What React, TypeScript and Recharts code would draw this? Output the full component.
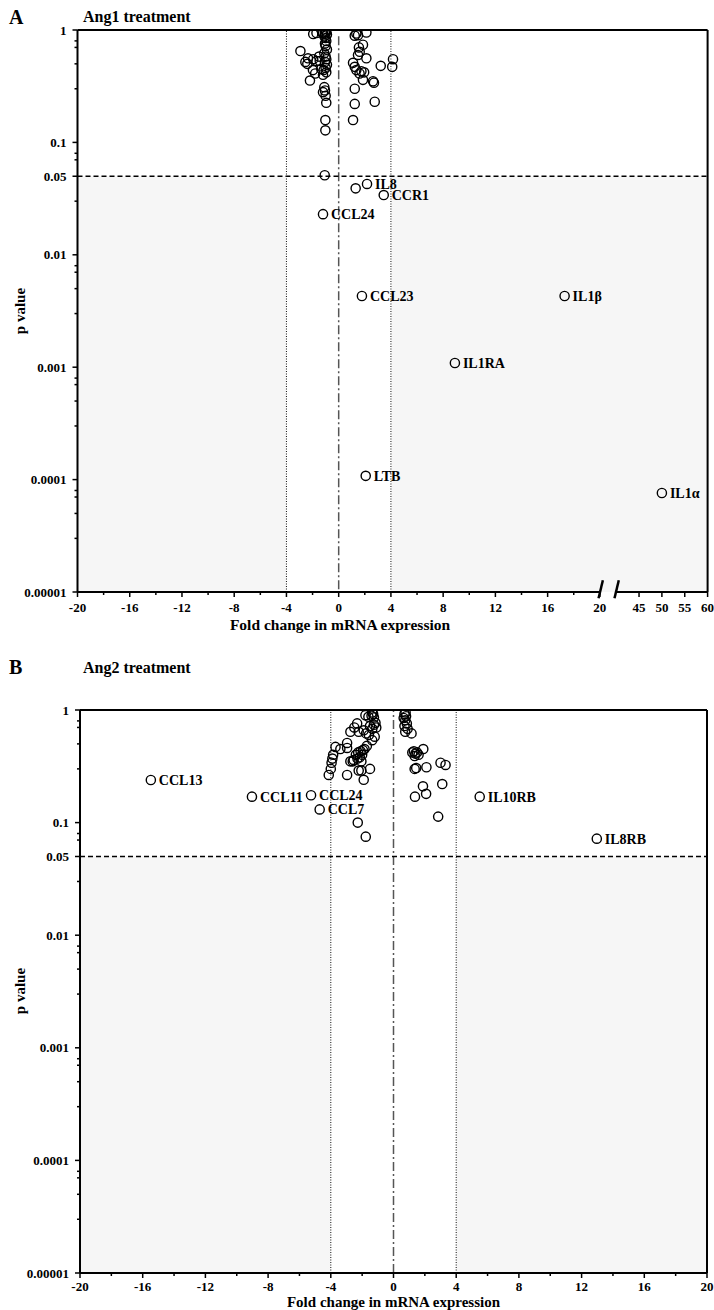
import React from 'react';
import { ScatterChart, Scatter, XAxis, YAxis, ReferenceLine, ReferenceArea } from 'recharts';

const FONT = '"Liberation Serif", "Times New Roman", serif';

// ---------- Panel A : Ang1 treatment ----------
const ang1Fold = [
  -1.0, -0.95, -1.05, -0.9, -1.1, -1.0, -0.95, -1.05, -1.0, -0.9,
  -1.1, -1.0, -0.95, -1.05, -0.9, -1.0, -1.15, -0.95, -1.2, -1.1,
  -1.05, -1.2, -1.0, -0.95, -1.02, -1.02,
  -1.95, -1.7, -2.93, -2.35, -2.4, -1.95, -1.7, -1.45, -2.2, -1.97,
  -1.33, -1.5, -1.2, -1.25, -2.55, -1.8,
  1.35, 1.48, 2.12, 1.23, 1.86, 1.61, 1.48, 2.12, 1.1, 1.23,
  1.35, 1.74, 1.86, 3.22, 4.16, 4.1, 2.63, 2.7, 1.23, 2.76,
  1.23, 1.1, 1.6, 1.95, 1.55,
  -1.07, 1.3,
];
const ang1P = [
  0.99, 0.96, 0.93, 0.91, 0.88, 0.85, 0.8, 0.76, 0.72, 0.67,
  0.62, 0.58, 0.55, 0.52, 0.49, 0.46, 0.44, 0.42, 0.4, 0.31,
  0.29, 0.28, 0.26, 0.225, 0.158, 0.128,
  0.92, 0.94, 0.65, 0.56, 0.5, 0.55, 0.53, 0.53, 0.355, 0.44,
  0.45, 0.58, 0.93, 0.95, 0.52, 0.41,
  0.93, 0.9, 0.95, 0.89, 0.74, 0.64, 0.6, 0.56, 0.51, 0.47,
  0.44, 0.43, 0.36, 0.48, 0.55, 0.47, 0.35, 0.34, 0.3, 0.23,
  0.22, 0.158, 0.41, 0.42, 0.7,
  0.051, 0.039,
];
const ang1Genes = ['IL8', 'CCR1', 'CCL24', 'CCL23', 'IL1β', 'IL1RA', 'LTB', 'IL1α'];
const ang1GeneFold = [2.17, 3.45, -1.2, 1.78, 17.3, 8.9, 2.07, 50];
const ang1GeneP = [0.0427, 0.034, 0.023, 0.0043, 0.0043, 0.00109, 0.000108, 0.000076];

const ang1MajorX = [-20, -16, -12, -8, -4, 0, 4, 8, 12, 16, 20, 45, 50, 55, 60];
const ang1MinorX = [-18, -14, -10, -6, -2, 2, 6, 10, 14, 18];

// ---------- Panel B : Ang2 treatment ----------
const ang2Fold = [
  -3.7, -3.85, -3.9, -3.95, -4.0, -4.13,
  -1.36, -1.3, -1.4, -1.25, -1.79, -1.6, -2.32, -1.15, -1.25, -1.1,
  -1.35, -1.5, -2.75, -2.22, -1.57, -1.36, -1.2, -1.75, -1.9, -2.5,
  -3.39, -2.96, -2.96, -2.54, -2.4, -2.25, -2.1, -1.95, -2.3, -2.15,
  -2.0, -2.6, -2.75, -1.85, -1.7, -2.05,
  -2.96, -2.22, -2.05, -1.5, -1.9, -2.28, -1.77,
  0.77, 0.7, 0.8, 0.65, 0.75, 0.85, 0.7, 0.9, 0.75, 1.15,
  1.3, 1.4, 1.5, 1.6, 1.2, 1.35, 1.9,
  1.35, 1.45, 2.1, 3.0, 3.32, 1.88, 1.37, 2.08, 3.11, 2.85,
];
const ang2P = [
  0.47, 0.4, 0.37, 0.34, 0.3, 0.265,
  0.95, 0.92, 0.89, 0.86, 0.9, 0.87, 0.76, 0.77, 0.74, 0.7,
  0.68, 0.72, 0.64, 0.64, 0.6, 0.54, 0.58, 0.62, 0.66, 0.7,
  0.45, 0.51, 0.46, 0.36, 0.4, 0.42, 0.43, 0.44, 0.37, 0.38,
  0.4, 0.35, 0.35, 0.45, 0.48, 0.35,
  0.265, 0.29, 0.29, 0.3, 0.24, 0.1, 0.075,
  0.95, 0.92, 0.88, 0.85, 0.81, 0.76, 0.72, 0.68, 0.64, 0.62,
  0.43, 0.41, 0.42, 0.4, 0.42, 0.39, 0.45,
  0.3, 0.305, 0.31, 0.34, 0.325, 0.21, 0.17, 0.18, 0.22, 0.113,
];
const ang2Genes = ['CCL13', 'CCL11', 'CCL24', 'CCL7', 'IL10RB', 'IL8RB'];
const ang2GeneFold = [-15.48, -9.03, -5.26, -4.71, 5.5, 12.97];
const ang2GeneP = [0.239, 0.17, 0.175, 0.131, 0.17, 0.072];

const ang2MajorX = [-20, -16, -12, -8, -4, 0, 4, 8, 12, 16, 20];
const ang2MinorX = [-18, -14, -10, -6, -2, 2, 6, 10, 14, 18];

// ---------- shared y axis ----------
const yMajor = [1, 0.1, 0.05, 0.01, 0.001, 0.0001, 0.00001];
const yMajorLabels = ['1', '0.1', '0.05', '0.01', '0.001', '0.0001', '0.00001'];
const yMinorMultipliers = [3, 5, 7, 8];
const yDecades = [0.00001, 0.0001, 0.001, 0.01, 0.1];
const pThreshold = 0.05;
const foldThreshold = 4;

// broken axis for panel A: values above 20 resume at 45 in a compressed segment
const breakLeft = 20;
const breakRight = 45;
const resumeAt = 23;
const squeeze = 0.35;
const ang1Axis = (x: number) => (x <= breakLeft ? x : resumeAt + (x - breakRight) * squeeze);
const slashPositions = [20.05, 21.27];

const yMinor: number[] = [];
yDecades.forEach((d) => yMinorMultipliers.forEach((m) => { if (Math.abs(m * d - 0.05) > 1e-9) yMinor.push(m * d); }));
const yTicks = [...yMajor, ...yMinor].sort((a, b) => a - b);

const same = (a: number, b: number) => Math.abs(a - b) <= Math.abs(b) * 1e-6 + 1e-12;

function makeXTick(values: number[], labels: string[], labelDy: number) {
  return (props: any) => {
    const { x, y, payload } = props;
    const idx = values.findIndex((v) => same(v, payload.value));
    const major = idx >= 0;
    return (
      <g>
        <line x1={x} y1={y} x2={x} y2={y + (major ? 5 : 3)} stroke="#000" strokeWidth={1.5} />
        {major && (
          <text x={x} y={y + labelDy} textAnchor="middle" fontFamily={FONT} fontWeight="bold" fontSize={13} fill="#000">
            {labels[idx]}
          </text>
        )}
      </g>
    );
  };
}

const YTick = (props: any) => {
  const { x, y, payload } = props;
  const idx = yMajor.findIndex((v) => same(v, payload.value));
  const major = idx >= 0;
  return (
    <g>
      <line x1={x - (major ? 5 : 3)} y1={y} x2={x} y2={y} stroke="#000" strokeWidth={1.5} />
      {major && (
        <text x={x - 11} y={y + 4.5} textAnchor="end" fontFamily={FONT} fontWeight="bold" fontSize={13} fill="#000">
          {yMajorLabels[idx]}
        </text>
      )}
    </g>
  );
};

const Ring = (props: any) => {
  const { cx, cy, payload } = props;
  if (cx == null || cy == null) return null;
  return (
    <g>
      <circle cx={cx} cy={cy} r={4.6} fill="none" stroke="#000" strokeWidth={1.4} />
      {payload.gene ? (
        <text x={cx + 8} y={cy + 5} fontFamily={FONT} fontWeight="bold" fontSize={14} fill="#000">
          {payload.gene}
        </text>
      ) : null}
    </g>
  );
};

const ang1Data = [
  ...ang1Fold.map((f, i) => ({ x: ang1Axis(f), p: ang1P[i], gene: '' })),
  ...ang1GeneFold.map((f, i) => ({ x: ang1Axis(f), p: ang1GeneP[i], gene: ang1Genes[i] })),
];
const ang2Data = [
  ...ang2Fold.map((f, i) => ({ x: f, p: ang2P[i], gene: '' })),
  ...ang2GeneFold.map((f, i) => ({ x: f, p: ang2GeneP[i], gene: ang2Genes[i] })),
];

const ang1TickVals = [...ang1MajorX, ...ang1MinorX].map(ang1Axis).sort((a, b) => a - b);
const ang1MajorVals = ang1MajorX.map(ang1Axis);
const ang1MajorLabels = ang1MajorX.map(String);
const ang2TickVals = [...ang2MajorX, ...ang2MinorX].sort((a, b) => a - b);
const ang2MajorLabels = ang2MajorX.map(String);

const X_MIN = -20;
const A_X_MAX = ang1Axis(60);
const B_X_MAX = 20;
const Y_MIN = 0.00001;
const Y_MAX = 1;

const frame = { stroke: '#000', strokeWidth: 2, ifOverflow: 'visible' as const };
const shade = '#f6f6f6';
const dotted = { stroke: '#111', strokeWidth: 1, strokeDasharray: '1 1.5' };
const dashDot = { stroke: '#555', strokeWidth: 1.5, strokeDasharray: '9 3 2 3' };

export default function App() {
  const slashLo = Y_MIN * Math.pow(10, -0.055);
  const slashHi = Y_MIN * Math.pow(10, 0.105);
  return (
    <div style={{ position: 'absolute', left: 0, top: 0, width: 714, height: 1310, background: '#fff' }}>
      <div style={{ position: 'absolute', left: 0, top: 0 }}>
        <ScatterChart width={714} height={650} margin={{ top: 30, right: 6.4, bottom: 18, left: 7.5 }}>
          <XAxis
            dataKey="x"
            type="number"
            domain={[X_MIN, A_X_MAX]}
            ticks={ang1TickVals}
            interval={0}
            allowDataOverflow
            axisLine={false}
            tickLine={false}
            tickSize={0}
            tickMargin={0}
            height={40}
            tick={makeXTick(ang1MajorVals, ang1MajorLabels, 20)}
          />
          <YAxis
            dataKey="p"
            type="number"
            scale="log"
            domain={[Y_MIN, Y_MAX]}
            ticks={yTicks}
            interval={0}
            allowDataOverflow
            axisLine={false}
            tickLine={false}
            tickSize={0}
            tickMargin={0}
            width={70}
            tick={YTick}
          />
          <ReferenceArea x1={X_MIN} x2={-foldThreshold} y1={Y_MIN} y2={pThreshold} fill={shade} fillOpacity={1} stroke="none" />
          <ReferenceArea x1={foldThreshold} x2={A_X_MAX} y1={Y_MIN} y2={pThreshold} fill={shade} fillOpacity={1} stroke="none" />
          <ReferenceLine x={-foldThreshold} {...dotted} />
          <ReferenceLine x={foldThreshold} {...dotted} />
          <ReferenceLine segment={[{ x: 0, y: 0.88 }, { x: 0, y: Y_MIN }]} {...dashDot} />
          <ReferenceLine y={pThreshold} stroke="#000" strokeWidth={1.4} strokeDasharray="5 3" />
          <ReferenceLine segment={[{ x: X_MIN, y: Y_MIN }, { x: X_MIN, y: Y_MAX }]} {...frame} />
          <ReferenceLine segment={[{ x: X_MIN, y: Y_MAX }, { x: A_X_MAX, y: Y_MAX }]} {...frame} />
          <ReferenceLine segment={[{ x: A_X_MAX, y: Y_MIN }, { x: A_X_MAX, y: Y_MAX }]} {...frame} />
          <ReferenceLine segment={[{ x: X_MIN, y: Y_MIN }, { x: slashPositions[0], y: Y_MIN }]} {...frame} />
          <ReferenceLine segment={[{ x: slashPositions[1], y: Y_MIN }, { x: A_X_MAX, y: Y_MIN }]} {...frame} />
          {slashPositions.map((s) => (
            <ReferenceLine
              key={s}
              segment={[{ x: s - 0.15, y: slashLo }, { x: s + 0.18, y: slashHi }]}
              stroke="#000"
              strokeWidth={2.5}
              ifOverflow="visible"
            />
          ))}
          <Scatter data={ang1Data} shape={Ring} isAnimationActive={false} />
        </ScatterChart>
      </div>

      <div style={{ position: 'absolute', left: 0, top: 650 }}>
        <ScatterChart width={714} height={660} margin={{ top: 60, right: 7, bottom: 0, left: 10 }}>
          <XAxis
            dataKey="x"
            type="number"
            domain={[X_MIN, B_X_MAX]}
            ticks={ang2TickVals}
            interval={0}
            allowDataOverflow
            axisLine={false}
            tickLine={false}
            tickSize={0}
            tickMargin={0}
            height={37}
            tick={makeXTick(ang2MajorX, ang2MajorLabels, 17.5)}
          />
          <YAxis
            dataKey="p"
            type="number"
            scale="log"
            domain={[Y_MIN, Y_MAX]}
            ticks={yTicks}
            interval={0}
            allowDataOverflow
            axisLine={false}
            tickLine={false}
            tickSize={0}
            tickMargin={0}
            width={70}
            tick={YTick}
          />
          <ReferenceArea x1={X_MIN} x2={-foldThreshold} y1={Y_MIN} y2={pThreshold} fill={shade} fillOpacity={1} stroke="none" />
          <ReferenceArea x1={foldThreshold} x2={B_X_MAX} y1={Y_MIN} y2={pThreshold} fill={shade} fillOpacity={1} stroke="none" />
          <ReferenceLine x={-foldThreshold} {...dotted} />
          <ReferenceLine x={foldThreshold} {...dotted} />
          <ReferenceLine x={0} {...dashDot} />
          <ReferenceLine y={pThreshold} stroke="#000" strokeWidth={1.4} strokeDasharray="5 3" />
          <ReferenceLine segment={[{ x: X_MIN, y: Y_MIN }, { x: X_MIN, y: Y_MAX }]} {...frame} />
          <ReferenceLine segment={[{ x: X_MIN, y: Y_MAX }, { x: B_X_MAX, y: Y_MAX }]} {...frame} />
          <ReferenceLine segment={[{ x: B_X_MAX, y: Y_MIN }, { x: B_X_MAX, y: Y_MAX }]} {...frame} />
          <ReferenceLine segment={[{ x: X_MIN, y: Y_MIN }, { x: B_X_MAX, y: Y_MIN }]} {...frame} />
          <Scatter data={ang2Data} shape={Ring} isAnimationActive={false} />
        </ScatterChart>
      </div>

      <svg width={714} height={1310} style={{ position: 'absolute', left: 0, top: 0, pointerEvents: 'none' }}>
        <g fontFamily={FONT} fontWeight="bold" fill="#000">
          <text x={9} y={24} fontSize={20}>A</text>
          <text x={83} y={22} fontSize={16}>Ang1 treatment</text>
          <text x={25} y={311} fontSize={15} textAnchor="middle" transform="rotate(-90 25 311)">p value</text>
          <text x={340} y={630} fontSize={15.5} textAnchor="middle">Fold change in mRNA expression</text>
          <text x={9} y={674} fontSize={20}>B</text>
          <text x={83} y={673} fontSize={16}>Ang2 treatment</text>
          <text x={25} y={991} fontSize={15} textAnchor="middle" transform="rotate(-90 25 991)">p value</text>
          <text x={393.5} y={1306.5} fontSize={15} textAnchor="middle">Fold change in mRNA expression</text>
        </g>
      </svg>
    </div>
  );
}
